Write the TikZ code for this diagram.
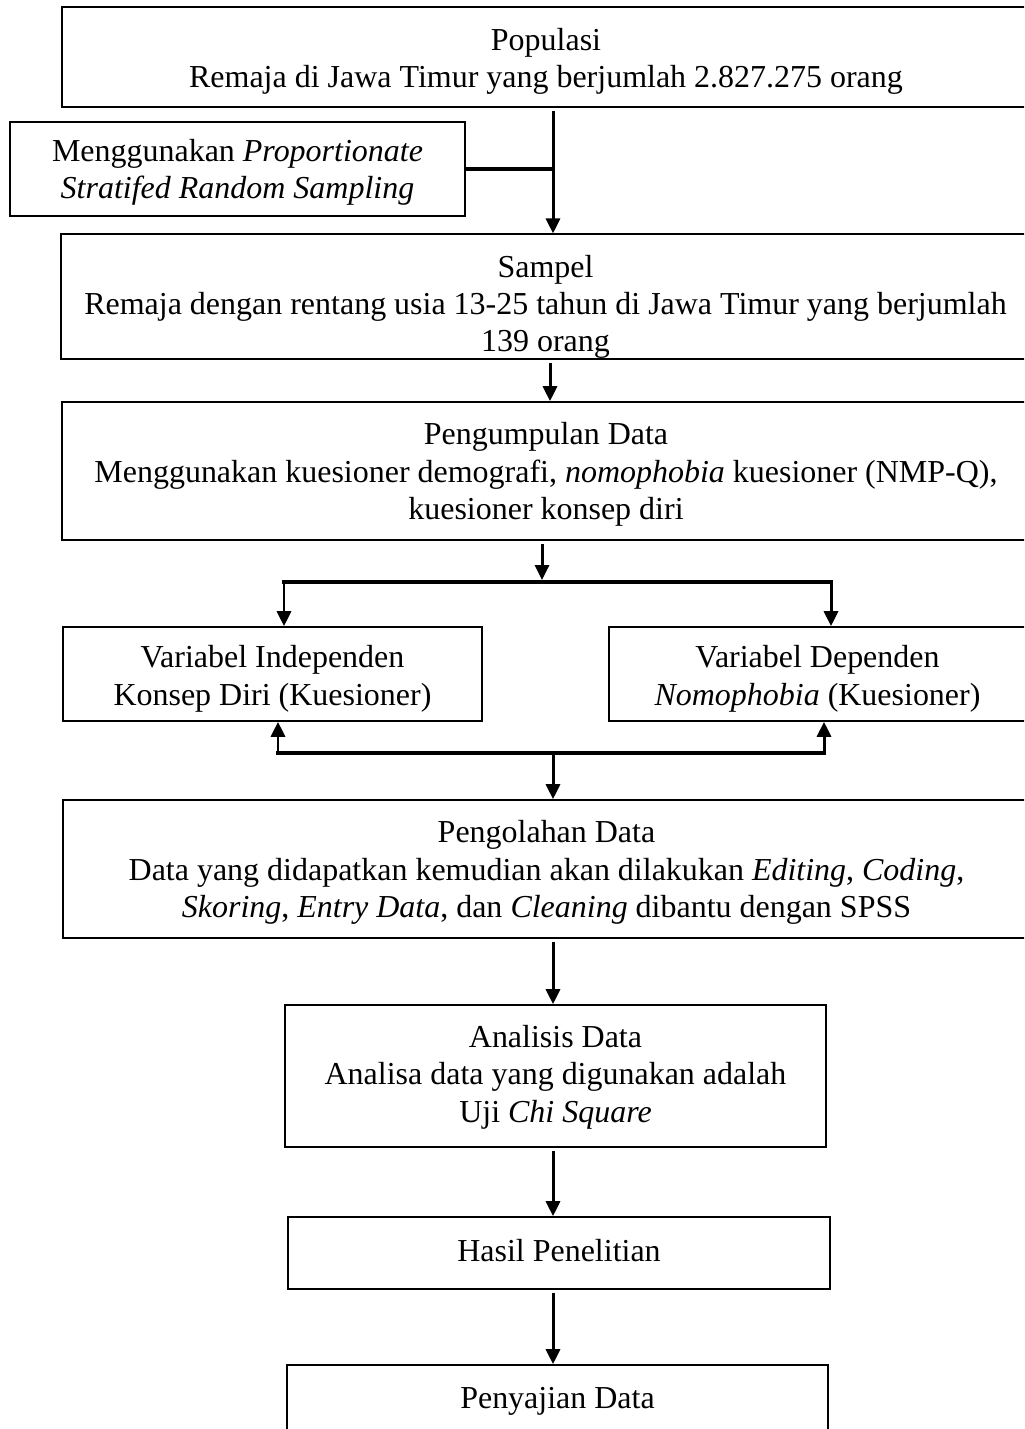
\documentclass[tikz,border=0pt]{standalone}
\usepackage{fontspec}
\setmainfont{Liberation Serif}
\usepackage{tikz}
\usetikzlibrary{arrows.meta,positioning}
\newcommand{\turunkan}[1]{\rule{0pt}{#1}}

\begin{document}
\begin{tikzpicture}[x=0.02cm,y=-0.02cm,
  font=\fontsize{18.2}{21.2}\selectfont,
  box/.style={draw, line width=1pt, align=center, inner sep=0pt},
  arr/.style={line width=1.7pt, -{Triangle[length=8.5pt,width=8pt]}},
  gap/.style={shorten <=2pt},
  link/.style={line width=2.6pt, line cap=rect}]
\useasboundingbox (0,0) rectangle (1024,1429);
\clip (0,0) rectangle (1024,1429);
% boxes
\node[box, minimum width=19.36cm, minimum height=2cm] (popul) at (546,57)
  {\turunkan{17.5pt}Populasi\\Remaja di Jawa Timur yang berjumlah 2.827.275 orang};
\node[box, minimum width=9.1cm, minimum height=1.88cm] (metode) at (237.5,169)
  {\turunkan{16pt}Menggunakan \textit{Proportionate}\\\textit{Stratifed Random Sampling}};
\node[box, minimum width=19.38cm, minimum height=2.46cm] (sampel) at (545.5,296.5)
  {\turunkan{24.5pt}Sampel\\Remaja dengan rentang usia 13-25 tahun di Jawa Timur yang berjumlah\\139 orang};
\node[box, minimum width=19.36cm, minimum height=2.76cm] (kumpul) at (546,471)
  {\turunkan{16.5pt}Pengumpulan Data\\Menggunakan kuesioner demografi, \textit{nomophobia} kuesioner (NMP-Q),\\kuesioner konsep diri};
\node[box, minimum width=8.38cm, minimum height=1.88cm] (varind) at (272.5,674)
  {\turunkan{18pt}Variabel Independen\\Konsep Diri (Kuesioner)};
\node[box, minimum width=8.34cm, minimum height=1.88cm] (vardep) at (817.5,674)
  {\turunkan{18pt}Variabel Dependen\\\textit{Nomophobia} (Kuesioner)};
\node[box, minimum width=19.34cm, minimum height=2.76cm] (olah) at (546.5,869)
  {\turunkan{16.5pt}Pengolahan Data\\Data yang didapatkan kemudian akan dilakukan \textit{Editing}, \textit{Coding},\\\textit{Skoring}, \textit{Entry Data}, dan \textit{Cleaning} dibantu dengan SPSS};
\node[box, minimum width=10.82cm, minimum height=2.84cm] (analisis) at (555.5,1076)
  {\turunkan{14pt}Analisis Data\\Analisa data yang digunakan adalah\\Uji \textit{Chi Square}};
\node[box, minimum width=10.84cm, minimum height=1.44cm] (hasil) at (559,1253)
  {\raisebox{3pt}{Hasil Penelitian}};
\node[box, minimum width=10.82cm, minimum height=1.44cm] (saji) at (557.5,1401) {Penyajian Data};
% connectors
\coordinate (pokok) at (553,166);
\draw[arr, gap] (popul.south -| pokok) -- (sampel.north -| pokok);
\draw[link] (metode.east) -- (metode.east -| pokok);
\coordinate (turun) at (550,380);
\draw[arr, gap] (sampel.south -| turun) -- (kumpul.north -| turun);
\coordinate (bagi) at (542,580);
\coordinate (bagikiri) at (284,582);
\coordinate (bagikanan) at (831,582);
\draw[arr, gap] (kumpul.south -| bagi) -- (bagi);
\draw[link] (bagikiri) -- (bagikanan);
\draw[arr] (bagikiri) -- (varind.north -| bagikiri);
\draw[arr] (bagikanan) -- (vardep.north -| bagikanan);
\coordinate (gabung) at (553,753);
\coordinate (gabungkiri) at (278,753);
\coordinate (gabungkanan) at (824,753);
\draw[link] (gabungkiri) -- (gabungkanan);
\draw[arr] (gabungkiri) -- (varind.south -| gabungkiri);
\draw[arr] (gabungkanan) -- (vardep.south -| gabungkanan);
\draw[arr] (gabung) -- (olah.north -| gabung);
\coordinate (bawah) at (553,1000);
\foreach \dari/\ke in {olah/analisis,analisis/hasil,hasil/saji}
  \draw[arr, gap] (\dari.south -| bawah) -- (\ke.north -| bawah);
\end{tikzpicture}
\end{document}
